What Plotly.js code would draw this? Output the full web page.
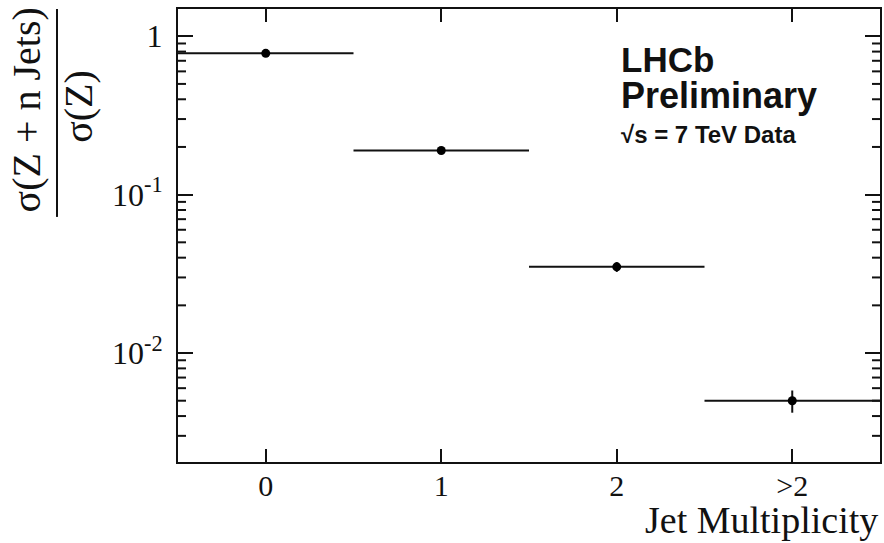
<!DOCTYPE html>
<html>
<head>
<meta charset="utf-8">
<script src="https://cdn.plot.ly/plotly-3.0.1.min.js"></script>
<style>
  html, body { margin: 0; padding: 0; background: #fff; }
  #chart { width: 884px; height: 543px; }
</style>
</head>
<body>
<div id="chart"></div>
<script>
// Jet multiplicity bins and the measured cross-section ratio per bin
const categories = ['0', '1', '2', '>2'];
const ratio = [0.78, 0.19, 0.035, 0.0050];
const ratioErr = [0.02, 0.006, 0.0025, 0.0008];
const binHalfWidth = [0.5, 0.5, 0.5, 0.5];

// Decade labels on the logarithmic axis
const yTickVals = [0.01, 0.1, 1];
const yTickText = ['10<sup>-2</sup>', '10<sup>-1</sup>', '1'];

const xPos = categories.map((c, i) => i);

// axis ranges
const xRange = [-0.5, 3.5];
const yRange = [-2.688, 0.172];

// minor log ticks: 2..9 within each decade, kept inside the visible range
const minorTicks = [];
[0.001, 0.01, 0.1, 1].forEach(d => {
  for (let m = 2; m <= 9; m++) {
    const v = m * d;
    const lv = Math.log10(v);
    if (lv > yRange[0] && lv < yRange[1]) minorTicks.push(v);
  }
});

const serif = 'Liberation Serif, Times New Roman, serif';
const sans = 'Liberation Sans, Arial, sans-serif';

const plotW = 884 - 178 - 4;
// minor tick length (8 px) expressed in x-axis units
const minorLenX = 8 / plotW * (xRange[1] - xRange[0]);

const trace = {
  x: xPos,
  y: ratio,
  type: 'scatter',
  mode: 'markers',
  marker: { color: '#000', size: 9 },
  error_x: { type: 'data', array: binHalfWidth, color: '#111', thickness: 2, width: 0 },
  error_y: { type: 'data', array: ratioErr, color: '#111', thickness: 2, width: 0 },
  showlegend: false,
  hoverinfo: 'x+y'
};

// short minor ticks along the left and right frame edges, drawn as line segments
const mx = [], my = [];
minorTicks.forEach(v => {
  mx.push(xRange[0], xRange[0] + minorLenX, null, xRange[1] - minorLenX, xRange[1], null);
  my.push(v, v, null, v, v, null);
});
const minorTickTrace = {
  x: mx, y: my, type: 'scatter', mode: 'lines',
  line: { color: '#111', width: 2 },
  connectgaps: false, showlegend: false, hoverinfo: 'skip', cliponaxis: false
};

const layout = {
  width: 884,
  height: 543,
  margin: { l: 178, r: 4, t: 9, b: 81 },
  paper_bgcolor: '#fff',
  plot_bgcolor: '#fff',
  font: { family: serif, color: '#111' },
  xaxis: {
    range: xRange,
    tickvals: xPos,
    ticktext: categories,
    ticks: 'inside',
    ticklen: 13,
    tickwidth: 2,
    tickcolor: '#111',
    mirror: 'ticks',
    showline: true,
    linecolor: '#111',
    linewidth: 2,
    showgrid: false,
    zeroline: false,
    ticklabelstandoff: -4,
    tickfont: { family: serif, size: 30, color: '#111' }
  },
  yaxis: {
    type: 'log',
    range: yRange,
    tickvals: yTickVals,
    ticktext: yTickText,
    ticks: 'inside',
    ticklen: 15,
    tickwidth: 2,
    tickcolor: '#111',
    mirror: 'ticks',
    showline: true,
    linecolor: '#111',
    linewidth: 2,
    showgrid: false,
    zeroline: false,
    ticklabelstandoff: 7,
    tickfont: { family: serif, size: 32, color: '#111' }
  },
  shapes: [
    // fraction bar of the y-axis label
    { type: 'line', xref: 'paper', yref: 'paper', x0: -0.1724, x1: -0.1724, y0: 1.0, y1: 0.541,
      line: { color: '#111', width: 2 } }
  ],
  annotations: [
    { text: 'σ(Z + n Jets)', xref: 'paper', yref: 'paper', x: -0.216, y: 0.777,
      xanchor: 'center', yanchor: 'middle', textangle: -90, showarrow: false,
      font: { family: serif, size: 40, color: '#111' } },
    { text: 'σ(Z)', xref: 'paper', yref: 'paper', x: -0.141, y: 0.784,
      xanchor: 'center', yanchor: 'middle', textangle: -90, showarrow: false,
      font: { family: serif, size: 40, color: '#111' } },
    { text: 'Jet Multiplicity', xref: 'paper', yref: 'paper', x: 1.0, y: -0.127,
      xanchor: 'right', yanchor: 'middle', showarrow: false,
      font: { family: serif, size: 38, color: '#111' } },
    { text: '<b>LHCb</b>', xref: 'paper', yref: 'paper', x: 0.628, y: 0.889,
      xanchor: 'left', yanchor: 'middle', showarrow: false,
      font: { family: sans, size: 35, color: '#111' } },
    { text: '<b>Preliminary</b>', xref: 'paper', yref: 'paper', x: 0.628, y: 0.808,
      xanchor: 'left', yanchor: 'middle', showarrow: false,
      font: { family: sans, size: 36, color: '#111' } },
    { text: '<b>√s = 7 TeV Data</b>', xref: 'paper', yref: 'paper', x: 0.628, y: 0.724,
      xanchor: 'left', yanchor: 'middle', showarrow: false,
      font: { family: sans, size: 24, color: '#111' } }
  ]
};

Plotly.newPlot('chart', [minorTickTrace, trace], layout, { displayModeBar: false, staticPlot: true });
</script>
</body>
</html>
